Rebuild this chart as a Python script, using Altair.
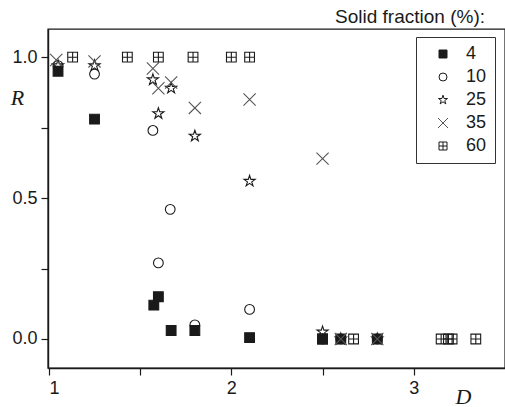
import altair as alt
import pandas as pd

series = ["4", "10", "25", "35", "60"]

d_4 = [1.05, 1.25, 1.575, 1.60, 1.67, 1.80, 2.10, 2.50, 2.60, 2.80]
r_4 = [0.95, 0.78, 0.12, 0.15, 0.03, 0.03, 0.005, 0.0, 0.0, 0.0]

d_10 = [1.05, 1.25, 1.57, 1.60, 1.665, 1.80, 2.10, 2.50, 2.60, 2.80]
r_10 = [0.97, 0.94, 0.74, 0.27, 0.46, 0.05, 0.105, 0.0, 0.0, 0.0]

d_25 = [1.05, 1.25, 1.57, 1.60, 1.67, 1.80, 2.10, 2.50, 2.60, 2.80]
r_25 = [0.97, 0.97, 0.92, 0.80, 0.89, 0.72, 0.56, 0.025, 0.0, 0.0]

d_35 = [1.04, 1.25, 1.57, 1.60, 1.67, 1.80, 2.10, 2.50, 2.60, 2.80]
r_35 = [0.99, 0.985, 0.96, 0.89, 0.91, 0.82, 0.85, 0.64, 0.0, 0.0]

d_60 = [1.13, 1.43, 1.60, 1.79, 2.00, 2.10, 2.50, 2.67, 3.15, 3.19, 3.21, 3.34]
r_60 = [1.0, 1.0, 1.0, 1.0, 1.0, 1.0, 0.0, 0.0, 0.0, 0.0, 0.0, 0.0]

rows = []
for name, ds, rs in [("4", d_4, r_4), ("10", d_10, r_10), ("25", d_25, r_25),
                     ("35", d_35, r_35), ("60", d_60, r_60)]:
    for d, r in zip(ds, rs):
        rows.append({"fraction": name, "D": d, "R": r})
df = pd.DataFrame(rows)

star = ("M0,-1.2L0.27,-0.37L1.14,-0.37L0.44,0.14L0.71,0.97L0,0.46"
        "L-0.71,0.97L-0.44,0.14L-1.14,-0.37L-0.27,-0.37Z")
xmark = "M-1.25,-1.25L1.25,1.25M-1.25,1.25L1.25,-1.25"
plussq = "M-1,-1H1V1H-1ZM0,-1V1M-1,0H1"

shapes = ["square", "circle", star, xmark, plussq]
fills = ["#1a1a1a", "transparent", "transparent", "transparent", "transparent"]
strokes = ["#1a1a1a", "#1a1a1a", "#1a1a1a", "#555555", "#1a1a1a"]

legend = alt.Legend(
    title=None, orient="none", legendX=368, legendY=8,
    strokeColor="#333333", padding=8, symbolOffset=10,
    labelOffset=14, rowPadding=5, symbolSize=64,
    labelFontSize=18, labelFont="Liberation Sans", labelColor="#1a1a1a",
    symbolStrokeWidth=1, fillColor="white",
)

chart = alt.Chart(df).mark_point(filled=True, size=95, strokeWidth=1.1, opacity=1).encode(
    x=alt.X("D:Q",
            scale=alt.Scale(domain=[0.995, 3.5], nice=False, zero=False),
            axis=alt.Axis(values=[1, 1.5, 2, 2.5, 3],
                          labelExpr="datum.value % 1 === 0 ? format(datum.value, 'd') : ''",
                          title="D", titleX=415, titleY=28, titleAngle=0,
                          titleAlign="center", titleBaseline="middle")),
    y=alt.Y("R:Q",
            scale=alt.Scale(domain=[-0.103, 1.1], nice=False, zero=False),
            axis=alt.Axis(values=[0, 0.25, 0.5, 0.75, 1.0], format=".1f",
                          labelExpr="datum.value % 0.5 === 0 ? datum.label : ''",
                          title="R", titleX=-31, titleY=68, titleAngle=0,
                          titleAlign="center", titleBaseline="middle")),
    shape=alt.Shape("fraction:N", scale=alt.Scale(domain=series, range=shapes), legend=legend),
    fill=alt.Fill("fraction:N", scale=alt.Scale(domain=series, range=fills), legend=legend),
    stroke=alt.Stroke("fraction:N", scale=alt.Scale(domain=series, range=strokes), legend=legend),
).properties(
    width=457, height=339,
    autosize=alt.AutoSizeParams(type="none"),
    padding={"left": 48, "top": 29, "right": 0, "bottom": 39},
    title=alt.TitleParams("Solid fraction (%):", anchor="end", frame="group",
                          fontSize=19, font="Liberation Sans", fontWeight="normal",
                          color="#1a1a1a", dx=-20, dy=20, offset=7, baseline="alphabetic"),
).configure_view(
    stroke="#1a1a1a", strokeWidth=1.4
).configure_axis(
    grid=False, domainColor="#1a1a1a", domainWidth=1.4,
    tickColor="#1a1a1a", tickWidth=1.2, tickSize=7,
    labelFont="Liberation Sans", labelFontSize=18, labelColor="#1a1a1a", labelPadding=4,
    titleFont="Liberation Serif", titleFontStyle="italic", titleFontWeight="normal",
    titleFontSize=22, titleColor="#1a1a1a",
)

chart.save("out.html", embed_options={"renderer": "svg", "actions": False})
